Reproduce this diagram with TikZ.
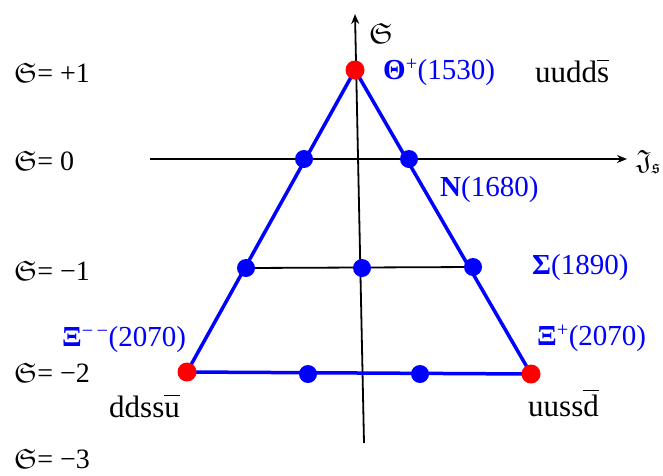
\documentclass[tikz,border=0pt]{standalone}
\usepackage{fontspec}
\usepackage{amssymb}
\setmainfont{Liberation Serif}
\usetikzlibrary{arrows.meta,backgrounds}
\definecolor{pblue}{RGB}{0,0,255}
\definecolor{pred}{RGB}{255,0,0}
\newcommand\barq[1]{$\overline{\vphantom{d}\mbox{#1}}$}
\newcommand\frS{$\mathfrak{S}$}
\begin{document}
\begin{tikzpicture}[x=1pt,y=-1pt,
  lbl/.style={anchor=west,inner sep=0pt,font=\fontsize{28}{32}\selectfont},
  qlbl/.style={anchor=base west,inner sep=0pt,font=\fontsize{31}{34}\selectfont},
  blbl/.style={anchor=west,inner sep=0pt,text=pblue,font=\fontsize{29}{32}\selectfont},
  bdot/.style={circle,fill=pblue,inner sep=0pt,minimum size=18pt},
  rdot/.style={circle,fill=pred,inner sep=0pt,minimum size=19pt},
  axisline/.style={line width=1.8pt,-{Stealth[length=10pt,width=8pt]}},
  bline/.style={pblue,line width=3.5pt},
  kline/.style={black,line width=1.8pt}]
\useasboundingbox (0,0) rectangle (663,475);
% axis endpoints
\coordinate (ytop) at (355,14);
\coordinate (ybot) at (364,443);
\coordinate (xl) at (150,159);
\coordinate (xr) at (627,159);
% dots
\node[rdot] (T) at (355,70) {};
\node[bdot] (N1) at (304,159) {};
\node[bdot] (N2) at (409,159) {};
\node[bdot] (S1) at (246,268) {};
\node[bdot] (S2) at (362,268) {};
\node[bdot] (S3) at (473,267) {};
\node[rdot] (X1) at (187,372) {};
\node[bdot] (X2) at (308,374) {};
\node[bdot] (X3) at (420,374) {};
\node[rdot] (X4) at (531,374) {};
\begin{scope}[on background layer]
  \draw[axisline] (ybot) -- (ytop);
  \draw[axisline] (xl) -- (xr);
  \draw[kline] (S1.center) -- (S3.center);
  \draw[bline,line join=round] (X1.center) -- (T.center) -- (X4.center) -- cycle;
\end{scope}
% axis labels
\node[anchor=west,inner sep=0pt,font=\fontsize{29}{32}\selectfont] (Slab) at (369,33) {\frS};
\node[anchor=west,inner sep=0pt,font=\fontsize{28}{32}\selectfont] (Ilab) at (636,162) {$\mathfrak{J}_{\mathfrak{s}}$};
% left labels
\node[lbl] (L1) at (14,73) {\frS= +1};
\node[lbl] (L0) at (14,161) {\frS= 0};
\node[lbl] (Lm1) at (14,271) {\frS= −1};
\node[lbl] (Lm2) at (14,373) {\frS= −2};
\node[lbl] (Lm3) at (14,459) {\frS= −3};
% particle labels
\node[blbl] (th) at (383,72) {\textbf{Θ}\textsuperscript{+}(1530)};
\node[blbl] (nn) at (440,190) {\textbf{N}(1680)};
\node[blbl] (sg) at (532,268) {\textbf{Σ}(1890)};
\node[blbl] (xp) at (537,338) {\textbf{Ξ}\textsuperscript{+}(2070)};
\node[blbl] (xm) at (62,340) {\textbf{Ξ}\textsuperscript{−\,−}(2070)};
% quark content
\node[qlbl] (q1) at (535,82) {uudd\barq{s}};
\node[qlbl] (q2) at (109,417) {ddss\barq{u}};
\node[qlbl] (q3) at (528,416) {uuss\barq{d}};
\end{tikzpicture}
\end{document}
